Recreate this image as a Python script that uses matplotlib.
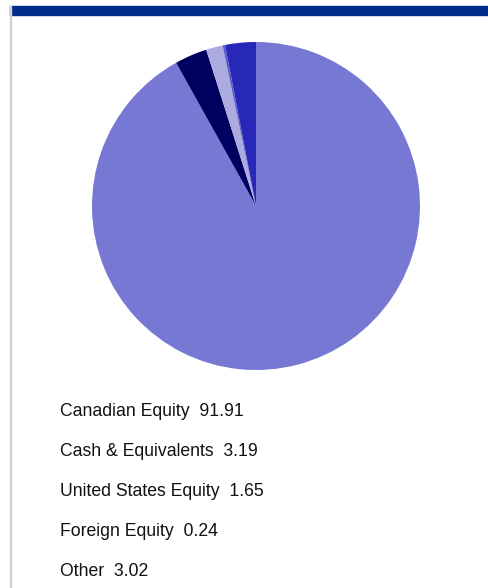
import matplotlib.pyplot as plt
from matplotlib.patches import Rectangle

# holdings breakdown
labels = ['Canadian Equity', 'Cash & Equivalents', 'United States Equity', 'Foreign Equity', 'Other']
values = [91.91, 3.19, 1.65, 0.24, 3.02]
colors = ['#7777d4', '#000060', '#ababe0', '#5a5ac8', '#2828b8']

W, H = 489, 588
fig = plt.figure(figsize=(W / 100, H / 100), dpi=100)
fig.patch.set_facecolor('white')

# top bar and left border
fig.patches.append(Rectangle((10 / W, 1 - 15 / H), 1 - 10 / W, 9 / H,
                             transform=fig.transFigure, color='#012b8a', zorder=0))
fig.patches.append(Rectangle((10 / W, 0), 1.2 / W, 1 - 6 / H,
                             transform=fig.transFigure, color='#d0d0d0', zorder=0))

# pie, centre (256, 206) radius 163 px
cx, cy, r = 256, 206, 164
ax = fig.add_axes([(cx - r) / W, 1 - (cy + r) / H, 2 * r / W, 2 * r / H])
ax.pie(values, colors=colors, startangle=90, counterclock=False,
       wedgeprops={'linewidth': 0})
ax.set_xlim(-1, 1)
ax.set_ylim(-1, 1)
ax.set_aspect('equal')
ax.axis('off')

# labels list
for i, (lab, v) in enumerate(zip(labels, values)):
    y = 412 + i * 39.8
    fig.text(60 / W, 1 - y / H, f'{lab}  {v:.2f}', fontsize=12.7,
             family='Liberation Sans', va='center', ha='left', color='#111111')

fig.savefig('out.png', dpi=100)
